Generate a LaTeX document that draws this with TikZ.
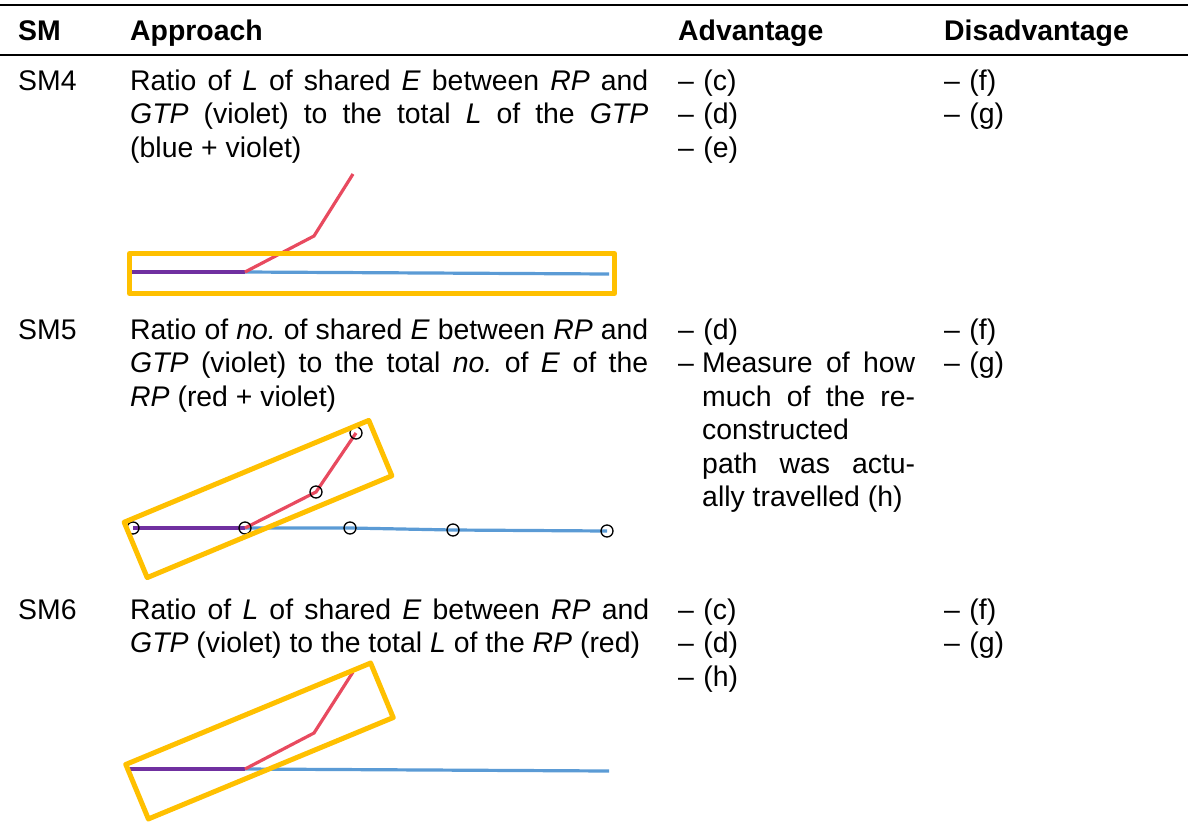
\documentclass[tikz,border=0pt]{standalone}
\usepackage{fontspec}
\setmainfont{Liberation Sans}
\usepackage{tikz}
\definecolor{rpred}{HTML}{E84A5F}
\definecolor{shpurple}{HTML}{7030A0}
\definecolor{gtpblue}{HTML}{5B9BD5}
\definecolor{selgold}{HTML}{FFC000}
\newcommand{\tabfont}{\fontsize{28.4}{33.5}\selectfont\frenchspacing}
\tolerance=10000
\hbadness=10000
\hyphenpenalty=10000

\begin{document}
\begin{tikzpicture}[x=1pt,y=-1pt,font=\tabfont,
 cell/.style={anchor=base west,inner sep=0pt,text width=#1,align=left},
 cell/.default=230pt,
 para/.style={anchor=base west,inner sep=0pt,text width=#1,align=justify},
 para/.default=518pt,
 rule/.style={draw=black,line width=#1},
 rp/.style={draw=rpred,line width=3.2pt},
 shared/.style={draw=shpurple,line width=3.2pt},
 gtp/.style={draw=gtpblue,line width=3.2pt},
 sel/.style={draw=selgold,line width=5pt,line join=round},
 edg/.style={draw=black,line width=1.3pt}]
\useasboundingbox (0,0) rectangle (1188,825);
\draw[rule=2.5pt] (0,5) -- (1188,5);
\draw[rule=1.5pt] (0,55) -- (1188,55);
\node[cell] (hsm) at (18,40) {\textbf{SM}};
\node[cell] (happ) at (130,40) {\textbf{Approach}};
\node[cell] (hadv) at (678,40) {\textbf{Advantage}};
\node[cell] (hdis) at (944,40) {\textbf{Disadvantage}};
% SM4
\node[cell] (sm4) at (18,90) {SM4};
\node[para] (sm4app) at (130,90) {Ratio of \textit{L} of shared \textit{E} between \textit{RP} and\linebreak \textit{GTP} (violet) to the total \textit{L} of the \textit{GTP}\linebreak (blue + violet)};
\node[cell] (sm4adv) at (678,90) {-- (c)\\-- (d)\\-- (e)};
\node[cell] (sm4dis) at (944,90) {-- (f)\\-- (g)};
\draw[shared] (132,272) -- (245,272);
\draw[gtp] (245,272) -- (609,274);
\draw[rp] (245,272) -- (314,236) -- (353,174);
\draw[sel] (129.5,253.5) rectangle (614.5,293.5);
% SM5
\node[cell] (sm5) at (18,339) {SM5};
\node[para] (sm5app) at (130,339) {Ratio of \textit{no.} of shared \textit{E} between \textit{RP} and\linebreak \textit{GTP} (violet) to the total \textit{no.} of \textit{E} of the\linebreak \textit{RP} (red + violet)};
\node[cell] (sm5adv) at (678,339) {-- (d)};
\node[cell] (sm5dash) at (678,372.5) {--};
\node[para=213pt] (sm5meas) at (702,372.5) {Measure of how\linebreak much of the re-\linebreak constructed\newline path was actu-\linebreak ally travelled (h)};
\node[cell] (sm5dis) at (944,339) {-- (f)\\-- (g)};
\coordinate (e1) at (133,528);
\coordinate (e2) at (245,528);
\coordinate (e3) at (350,528);
\coordinate (e4) at (453,530);
\coordinate (e5) at (607,531);
\coordinate (r1) at (316,492);
\coordinate (r2) at (356,433);
\draw[shared] (e1) -- (e2);
\draw[gtp] (e2) -- (e3) -- (e4) -- (e5);
\draw[rp] (e2) -- (r1) -- (r2);
\foreach \p in {e1,e2,e3,e4,e5,r1,r2}
  \draw[edg] (\p) circle[radius=6pt];
\draw[sel,rotate around={22.6:(258,499)}] (125.5,469) rectangle (390.5,529);
% SM6
\node[cell] (sm6) at (18,619) {SM6};
\node[para=519pt] (sm6app) at (130,619) {Ratio of \textit{L} of shared \textit{E} between \textit{RP} and\linebreak \textit{GTP} (violet) to the total \textit{L} of the \textit{RP} (red)};
\node[cell] (sm6adv) at (678,619) {-- (c)\\-- (d)\\-- (h)};
\node[cell] (sm6dis) at (944,619) {-- (f)\\-- (g)};
\draw[shared] (127,769) -- (245,769);
\draw[gtp] (245,769) -- (609,771);
\draw[rp] (245,769) -- (314,733) -- (353,672);
\draw[sel,rotate around={22.5:(259.5,741)}] (127,711.5) rectangle (392,770.5);
\end{tikzpicture}
\end{document}
